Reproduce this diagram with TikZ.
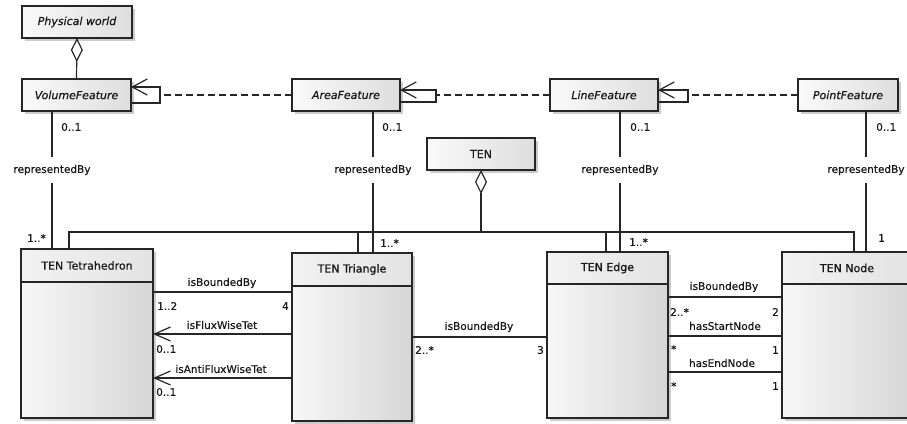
\documentclass[tikz,border=0pt]{standalone}
\usepackage{fontspec}
\setmainfont{DejaVu Sans}[FakeBold=0.6]
\newfontfamily\dfont{DejaVu Sans}[FakeBold=0.6]
\usetikzlibrary{arrows.meta,shadows}
\tikzset{
  ln/.style={line width=1.2pt, draw=black!85},
  shad/.style={drop shadow={shadow xshift=3pt, shadow yshift=-3pt, fill=black!40}},
  feat/.style={ln, anchor=north west, inner sep=0pt, outer sep=0pt, minimum height=32,
    left color=gray!4, right color=gray!26, shad, text=black!90,
    font=\dfont\fontsize{11}{13}\selectfont\itshape},
  clsbody/.style={ln, anchor=north west, inner sep=0pt, outer sep=0pt,
    left color=gray!6, right color=gray!32, shad},
  clshead/.style={ln, anchor=north west, inner sep=0pt, outer sep=0pt, minimum height=33,
    left color=gray!10, right color=gray!22, text=black!90,
    font=\dfont\fontsize{11}{13}\selectfont},
  lbl/.style={font=\dfont\fontsize{10.5}{12}\selectfont, inner sep=0pt, text=black!90},
  rbox/.style={lbl, minimum height=26},
  agg/.style={ln, {Diamond[open, length=24pt, width=12pt, line width=1.2pt]}-},
  gen/.style={ln, -{Straight Barb[length=15pt, width=16pt, line width=1.2pt]}},
  nav/.style={ln, -{Straight Barb[length=16pt, width=14pt, line width=1.2pt]}},
  realize/.style={ln, dash pattern=on 7pt off 4pt},
}
\begin{document}
\begin{tikzpicture}[x=1pt,y=-1pt]
\useasboundingbox (0,0) rectangle (907,423);
\clip (0,0) rectangle (907,423);

% feature classes
\node[feat, minimum width=110] (pw) at (22,6) {Physical world};
\node[feat, minimum width=109] (vol) at (22,79) {VolumeFeature};
\node[feat, minimum width=108] (area) at (292,79) {AreaFeature};
\node[feat, minimum width=108] (lin) at (550,79) {LineFeature};
\node[feat, minimum width=100] (pnt) at (798,79) {PointFeature};
\node[feat, minimum width=108, font=\dfont\fontsize{11}{13}\selectfont] (ten) at (427,138) {TEN};

% TEN classes
\node[clsbody, minimum width=132, minimum height=169] (tet) at (21,249) {};
\node[clshead, minimum width=132] (teth) at (21,249) {TEN Tetrahedron};
\node[clsbody, minimum width=120, minimum height=168] (tri) at (292,253) {};
\node[clshead, minimum width=120] (trih) at (292,253) {TEN Triangle};
\node[clsbody, minimum width=121, minimum height=166] (tedge) at (547,252) {};
\node[clshead, minimum width=121, minimum height=32] (tedgeh) at (547,252) {TEN Edge};
\node[clsbody, minimum width=130, minimum height=166] (tnode) at (782,252) {};
\node[clshead, minimum width=130, minimum height=32] (tnodeh) at (782,252) {TEN Node};

% aggregations
\draw[agg] (pw.south) -- (vol.north);
\draw[agg] (ten.south) -- (ten.south |- 0,232) coordinate (hub);
\draw[ln] (tet.north -| 69,0) -- (69,232) -- (854,232) -- (tnode.north -| 854,0);
\draw[ln] (tri.north -| 358,0) -- (358,232);
\draw[ln] (tedge.north -| 606,0) -- (606,232);

% generalizations / realizations
\draw[gen] (vol.east |- 0,103) -- (160,103) -- (160,87) -- (vol.east |- 0,87);
\draw[realize] (area.west) -- (160,95);
\draw[gen] (area.east |- 0,102) -- (436,102) -- (436,90) -- (area.east |- 0,90);
\draw[realize] (lin.west) -- (436,95);
\draw[gen] (lin.east |- 0,102) -- (688,102) -- (688,90) -- (lin.east |- 0,90);
\draw[realize] (pnt.west) -- (688,95);

% representedBy
\node[rbox] (rb1) at (52,170) {representedBy};
\node[rbox] (rb2) at (373,170) {representedBy};
\node[rbox] (rb3) at (620,170) {representedBy};
\node[rbox] (rb4) at (866,170) {representedBy};
\draw[ln] (vol.south -| rb1) -- (rb1.north);
\draw[ln] (rb1.south) -- (tet.north -| rb1);
\draw[ln] (area.south -| rb2) -- (rb2.north);
\draw[ln] (rb2.south) -- (tri.north -| rb2);
\draw[ln] (lin.south -| rb3) -- (rb3.north);
\draw[ln] (rb3.south) -- (tedge.north -| rb3);
\draw[ln] (pnt.south -| rb4) -- (rb4.north);
\draw[ln] (rb4.south) -- (tnode.north -| rb4);

\node[lbl, anchor=west] (m1) at (61,127) {0..1};
\node[lbl, anchor=west] (m2) at (382,127) {0..1};
\node[lbl, anchor=west] (m3) at (630,127) {0..1};
\node[lbl, anchor=west] (m4) at (876,127) {0..1};
\node[lbl, anchor=east] (m5) at (46,238) {1..*};
\node[lbl, anchor=west] (m6) at (380,243) {1..*};
\node[lbl, anchor=west] (m7) at (629,242) {1..*};
\node[lbl, anchor=west] (m8) at (878,238) {1};

% tetrahedron - triangle
\draw[ln] (tet.east |- 0,292) -- (tri.west |- 0,292);
\node[lbl] (a1) at (222,283) {isBoundedBy};
\node[lbl, anchor=west] (a1s) at (157,306) {1..2};
\node[lbl, anchor=east] (a1t) at (289,306) {4};
\draw[nav] (tri.west |- 0,334) -- (tet.east |- 0,334);
\node[lbl] (a2) at (222,325) {isFluxWiseTet};
\node[lbl, anchor=west] (a2s) at (156,349) {0..1};
\draw[nav] (tri.west |- 0,378) -- (tet.east |- 0,378);
\node[lbl] (a3) at (221,369) {isAntiFluxWiseTet};
\node[lbl, anchor=west] (a3s) at (156,392) {0..1};

% triangle - edge
\draw[ln] (tri.east |- 0,337) -- (tedge.west |- 0,337);
\node[lbl] (a4) at (479,327) {isBoundedBy};
\node[lbl, anchor=west] (a4s) at (415,350) {2..*};
\node[lbl, anchor=east] (a4t) at (544,350) {3};

% edge - node
\draw[ln] (tedge.east |- 0,297) -- (tnode.west |- 0,297);
\node[lbl] (a5) at (724,287) {isBoundedBy};
\node[lbl, anchor=west] (a5s) at (670,312) {2..*};
\node[lbl, anchor=east] (a5t) at (779,312) {2};
\draw[ln] (tedge.east |- 0,336) -- (tnode.west |- 0,336);
\node[lbl] (a6) at (725,326) {hasStartNode};
\node[lbl, anchor=west] (a6s) at (671,349) {*};
\node[lbl, anchor=east] (a6t) at (779,350) {1};
\draw[ln] (tedge.east |- 0,372) -- (tnode.west |- 0,372);
\node[lbl] (a7) at (722,363) {hasEndNode};
\node[lbl, anchor=west] (a7s) at (671,386) {*};
\node[lbl, anchor=east] (a7t) at (779,386) {1};
\end{tikzpicture}
\end{document}
